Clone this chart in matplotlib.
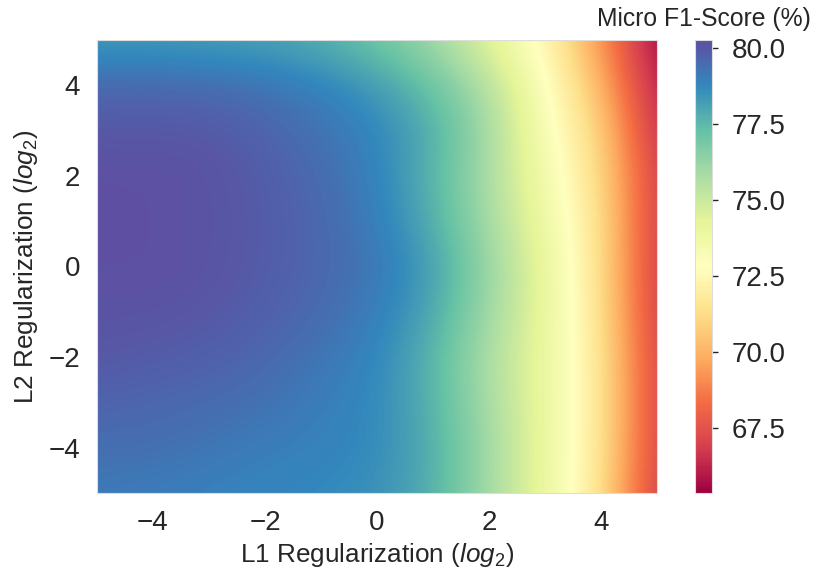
import numpy as np
import matplotlib
matplotlib.use("Agg")
import matplotlib.pyplot as plt

plt.rcParams['font.family'] = ['Liberation Sans', 'DejaVu Sans']
plt.rcParams['mathtext.fontset'] = 'custom'
plt.rcParams['mathtext.rm'] = 'Liberation Sans'
plt.rcParams['mathtext.it'] = 'Liberation Sans:italic'
plt.rcParams['text.color'] = '#262626'
plt.rcParams['axes.labelcolor'] = '#262626'
plt.rcParams['xtick.color'] = '#262626'
plt.rcParams['ytick.color'] = '#262626'

# log2 of regularization strengths
l1_log2 = [-5, -4, -3, -2, -1, 0, 1, 2, 3, 4, 5]
l2_log2 = [5, 4, 3, 2, 1, 0, -1, -2, -3, -4, -5]

# micro F1 (%) per L2 row (top to bottom), columns follow l1_log2
f1_l2_p5 = [78.2, 78.2, 78.1, 78.0, 77.7, 77.0, 76.0, 74.3, 72.5, 69.3, 65.35]
f1_l2_p4 = [79.6, 79.6, 79.5, 79.3, 78.9, 78.3, 77.2, 75.6, 73.0, 70.2, 65.8]
f1_l2_p3 = [80.0, 80.0, 80.0, 79.7, 79.3, 78.8, 77.8, 76.0, 73.2, 71.0, 66.2]
f1_l2_p2 = [80.2, 80.2, 80.1, 79.9, 79.5, 78.9, 77.6, 75.8, 73.5, 71.3, 66.6]
f1_l2_p1 = [80.25, 80.2, 80.1, 79.9, 79.6, 79.0, 77.8, 75.9, 73.8, 71.5, 66.6]
f1_l2_0 = [80.2, 80.2, 80.1, 79.9, 79.6, 79.2, 78.2, 76.2, 74.1, 71.5, 66.6]
f1_l2_m1 = [80.1, 80.1, 80.0, 79.8, 79.5, 79.0, 78.0, 76.0, 74.1, 71.6, 66.6]
f1_l2_m2 = [80.0, 79.9, 79.8, 79.6, 79.2, 78.8, 77.6, 75.7, 74.0, 71.8, 66.8]
f1_l2_m3 = [79.7, 79.6, 79.5, 79.3, 79.0, 78.7, 77.7, 75.8, 74.0, 71.8, 66.8]
f1_l2_m4 = [79.4, 79.4, 79.2, 79.0, 78.9, 78.7, 77.8, 76.0, 74.0, 71.8, 66.8]
f1_l2_m5 = [79.1, 79.0, 78.9, 78.8, 78.7, 78.5, 77.8, 75.9, 74.0, 71.6, 66.6]

grid = np.array([f1_l2_p5, f1_l2_p4, f1_l2_p3, f1_l2_p2, f1_l2_p1, f1_l2_0,
                 f1_l2_m1, f1_l2_m2, f1_l2_m3, f1_l2_m4, f1_l2_m5])

fig = plt.figure(figsize=(8.16, 5.71), dpi=100)
ax = fig.add_axes([97 / 816, 78 / 571, 560 / 816, 453 / 571])
cax = fig.add_axes([695 / 816, 78 / 571, 17 / 816, 453 / 571])

# pixel centres sit on the integer grid points
im = ax.imshow(grid, cmap='Spectral', interpolation='bicubic', aspect='auto',
               extent=[min(l1_log2) - 0.5, max(l1_log2) + 0.5,
                       min(l2_log2) - 0.5, max(l2_log2) + 0.5])
ax.set_xlim(min(l1_log2), max(l1_log2))
ax.set_ylim(min(l2_log2), max(l2_log2))

ax.set_xticks([-4, -2, 0, 2, 4])
ax.set_yticks([-4, -2, 0, 2, 4])
ax.tick_params(length=0, labelsize=20, pad=12)
for s in ax.spines.values():
    s.set_color('#dddddd')
    s.set_linewidth(0.8)
ax.set_xlabel('L1 Regularization ($log_2$)', fontsize=18.8, labelpad=4)
ax.set_ylabel('L2 Regularization ($log_2$)', fontsize=18.8, labelpad=6)

cb = fig.colorbar(im, cax=cax, format='%.1f')
cb.set_ticks([67.5, 70.0, 72.5, 75.0, 77.5, 80.0])
cb.outline.set_edgecolor('#dddddd')
cb.outline.set_linewidth(0.8)
cax.tick_params(length=4, width=1, labelsize=20, pad=10)
cax.set_title('Micro F1-Score (%)', fontsize=17.8, pad=10)

fig.savefig('out.png', dpi=100)
